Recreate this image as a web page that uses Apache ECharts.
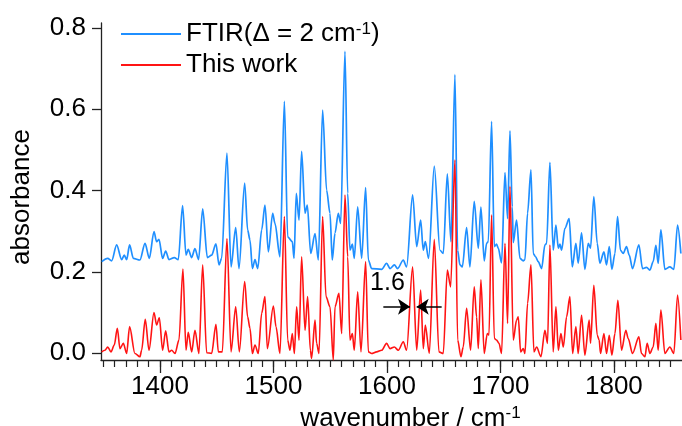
<!DOCTYPE html>
<html>
<head>
<meta charset="utf-8">
<script src="https://cdn.jsdelivr.net/npm/echarts@6/dist/echarts.min.js"></script>
<style>
html,body{margin:0;padding:0;background:#fff;}
#chart{width:682px;height:426px;}
</style>
</head>
<body>
<div id="chart"></div>
<script>
// ---- data ----
const ftirWavenumber = [1348.6,1353.9,1357.4,1361.8,1366.2,1368.5,1370.6,1373.2,1376.5,1382.3,1386.8,1390.6,1394.7,1397.0,1399.1,1402.3,1405.0,1407.9,1412.6,1416.1,1419.9,1422.9,1424.9,1427.9,1430.8,1434.0,1437.6,1441.7,1445.5,1449.3,
1452.0,1454.3,1459.0,1462.6,1466.7,1469.6,1474.6,1477.2,1479.3,1481.4,1483.7,1486.1,1489.6,1492.5,1495.5,1499.3,1501.3,1505.7,1509.6,1512.5,1516.6,1518.1,1520.1,1522.5,1524.8,1527.8,1529.8,1532.8,1536.6,1539.5,1543.3,1546.8,1549.8,1551.8,
1554.2,1557.1,1559.2,1563.0,1565.4,1567.4,1569.5,1571.2,1574.2,1577.7,1581.2,1583.6,1586.5,1595.3,1599.7,1602.7,1606.5,1609.4,1614.4,1617.3,1622.6,1626.2,1629.7,1632.0,1633.8,1636.7,1641.7,1646.7,1649.6,1653.2,1656.4,1659.9,
1662.3,1664.3,1666.4,1670.2,1673.1,1676.9,1680.5,1682.8,1685.7,1687.8,1689.3,1692.2,1694.6,1696.6,1698.1,1701.0,1704.0,1706.3,1708.4,1710.4,1711.3,1714.2,1717.2,1720.1,1721.6,1723.9,1726.9,1728.9,1731.0,1733.3,1736.3,1739.2,1740.7,1743.6,1746.5,1748.9,1751.0,1752.4,1753.9,1756.8,1760.6,1763.3,
1766.5,1768.5,1771.5,1774.4,1777.4,1779.4,1782.3,1785.3,1787.6,1791.2,1793.5,1795.9,1798.2,1800.9,1803.2,1805.8,1808.2,1811.1,1813.5,1816.4,1822.0,1825.2,1828.8,1831.7,1834.6,1837.0,1839.0,1841.4,1844.9,1849.3,1852.8,1856.1,1859.0];
const ftirAbsorbance = [0.225,0.233,0.227,0.266,0.230,0.241,0.230,0.266,0.233,0.229,0.270,0.233,0.299,0.274,0.280,0.233,0.251,0.230,0.235,0.230,0.363,0.241,0.255,0.235,0.257,0.230,0.355,0.235,0.241,0.269,
0.217,0.233,0.492,0.212,0.309,0.208,0.418,0.303,0.278,0.208,0.230,0.208,0.303,0.364,0.249,0.344,0.319,0.237,0.619,0.286,0.274,0.233,0.393,0.327,0.496,0.344,0.364,0.245,0.294,0.229,0.598,0.401,0.344,0.229,
0.295,0.344,0.319,0.742,0.393,0.253,0.268,0.233,0.360,0.233,0.407,0.229,0.208,0.206,0.221,0.208,0.217,0.208,0.229,0.212,0.389,0.262,0.327,0.253,0.274,0.233,0.460,0.253,0.245,0.441,0.274,0.685,
0.253,0.217,0.212,0.309,0.212,0.373,0.258,0.359,0.227,0.270,0.274,0.570,0.262,0.268,0.258,0.222,0.444,0.331,0.547,0.360,0.272,0.327,0.233,0.227,0.230,0.344,0.451,0.245,0.237,0.225,0.208,0.266,0.270,0.469,0.253,0.315,0.258,0.268,0.253,0.307,0.331,0.212,
0.270,0.221,0.296,0.206,0.270,0.258,0.385,0.270,0.221,0.249,0.217,0.262,0.206,0.245,0.336,0.253,0.245,0.262,0.241,0.208,0.266,0.208,0.211,0.204,0.225,0.265,0.221,0.303,0.206,0.212,0.206,0.315,0.245];

const workWavenumber = [1348.6,1351.5,1353.9,1356.8,1359.7,1362.4,1364.7,1367.7,1370.6,1373.2,1377.9,1382.3,1383.8,1387.0,1390.3,1394.7,1397.0,1399.4,1402.3,1405.0,1407.9,1410.3,1413.2,1416.7,1420.2,1422.9,1424.9,1427.9,1430.8,1434.3,1437.6,1441.1,1445.5,1449.3,
1451.4,1454.9,1459.0,1462.6,1466.7,1469.9,1474.6,1477.2,1479.3,1481.4,1483.7,1486.6,1489.6,1492.5,1494.6,1499.9,1502.2,1505.7,1509.6,1512.5,1514.5,1516.6,1518.4,1520.4,1522.5,1524.8,1527.8,1530.1,1532.5,1533.6,1536.6,1538.0,1540.1,1543.3,1546.3,1549.8,1552.7,
1554.2,1557.7,1560.1,1563.0,1565.4,1567.4,1569.5,1571.2,1574.2,1577.1,1581.2,1583.6,1586.5,1590.9,1595.3,1599.7,1602.7,1606.5,1610.0,1614.4,1617.3,1622.6,1626.2,1629.7,1632.0,1633.8,1637.3,1641.7,1645.8,1649.6,1653.2,1656.1,1659.9,
1662.3,1665.2,1667.2,1670.2,1673.7,1676.9,1679.0,1680.5,1682.8,1685.7,1688.4,1689.9,1692.2,1694.6,1696.6,1698.7,1701.0,1704.0,1706.3,1708.4,1711.3,1714.2,1715.7,1717.8,1720.1,1721.6,1723.9,1726.9,1729.5,1731.9,1735.7,1739.2,1741.5,1743.6,1746.5,1748.9,1751.0,1753.3,1755.4,1758.3,1761.2,
1763.6,1766.5,1768.5,1771.5,1774.4,1778.2,1779.4,1782.3,1785.3,1787.0,1788.2,1791.2,1793.5,1795.9,1798.2,1800.9,1803.5,1806.7,1810.5,1812.6,1816.4,1822.0,1824.3,1827.3,1829.3,1831.7,1834.6,1837.0,1839.0,1841.4,1844.9,1849.3,1852.8,1856.1,1859.0];
const workAbsorbance = [0.003,0.007,0.015,0.003,0.020,0.061,0.011,0.024,-0.001,0.065,-0.001,-0.009,0.007,0.083,0.007,0.100,0.069,0.087,0.007,0.055,0.003,0.007,-0.001,0.032,0.207,0.007,0.051,0.003,0.056,-0.001,0.217,0.001,-0.001,0.071,
0.003,0.003,0.282,0.003,0.114,0.003,0.176,0.089,0.061,-0.001,0.020,-0.001,0.098,0.139,0.011,0.116,0.065,-0.001,0.336,0.032,0.007,0.048,-0.001,0.114,0.032,0.237,0.056,0.139,0.007,-0.013,0.081,0.024,-0.001,0.336,0.139,0.114,-0.017,
0.114,0.147,0.048,0.389,0.237,0.032,0.048,0.007,0.151,0.003,0.225,0.003,-0.001,0.003,0.007,0.024,0.011,0.015,0.007,0.028,0.007,0.212,0.007,0.155,0.011,0.069,-0.001,0.280,0.003,-0.001,0.204,0.163,0.475,
0.032,-0.009,0.015,0.110,0.007,0.163,0.089,0.011,0.180,-0.001,0.048,0.044,0.340,0.036,0.032,0.024,-0.001,0.270,0.073,0.410,0.032,0.081,0.089,0.003,0.011,-0.001,0.122,0.217,0.003,0.015,-0.009,0.056,0.024,0.266,0.003,0.114,0.007,0.048,0.015,0.089,0.139,
-0.001,0.065,-0.001,0.093,-0.005,0.081,0.024,0.167,0.044,0.032,-0.001,0.048,-0.001,0.044,-0.005,0.048,0.130,0.007,0.056,0.036,-0.001,0.040,-0.001,-0.009,0.024,-0.001,0.015,0.073,0.007,0.106,-0.001,0.015,-0.001,0.143,0.032];

const xMajorTicks = [1400,1500,1600,1700,1800];
const xMinorTicks = [1350,1360,1370,1380,1390,1400,1410,1420,1430,1440,1450,1460,1470,1480,1490,1500,1510,1520,1530,1540,1550,1560,1570,1580,1590,1600,1610,1620,1630,1640,1650,1660,1670,1680,1690,1700,1710,1720,1730,1740,1750,1760,1770,1780,1790,1800,1810,1820,1830,1840,1850];
const yTicks = [0.0,0.2,0.4,0.6,0.8];

// annotation (resolution arrows) in data units
const arrowLeft = {from:[1596.8,0.114], to:[1620.3,0.114]};
const arrowRight = {from:[1648.2,0.114], to:[1626.2,0.114]};
const annotationText = {label:'1.6', at:[1600.4,0.172]};

// ---- chart ----
const FONT = "'Liberation Sans', Arial, Helvetica, sans-serif";
const zip = (xs, ys) => xs.map((x, i) => [x, ys[i]]);
const chart = echarts.init(document.getElementById('chart'), null, {renderer:'canvas'});
const axisColor = '#222';

chart.setOption({
  animation: false,
  backgroundColor: '#fff',
  textStyle: {fontFamily: FONT},
  grid: {left: 101, right: 0, top: 23, bottom: 66, containLabel: false, outerBoundsMode: 'none'},
  legend: {
    left: 116, top: 16, orient: 'vertical', itemWidth: 60, itemHeight: 2, itemGap: 4,
    data: [{name:'FTIR', icon:'rect'}, {name:'This work', icon:'rect'}],
    formatter: n => n === 'FTIR' ? '{a|FTIR(Δ = 2 cm}{s|-1}{a|)}' : '{a|This work}',
    textStyle: {
      fontFamily: FONT, color: '#000', fontSize: 26,
      rich: {
        a: {fontFamily: FONT, fontSize: 26, color: '#000', lineHeight: 26},
        s: {fontFamily: FONT, fontSize: 17, color: '#000', verticalAlign: 'top', lineHeight: 26, padding: [0,0,10,0]}
      }
    }
  },
  xAxis: [{
    type: 'value', min: 1348, max: 1860,
    splitLine: {show: false},
    axisLine: {show: true, onZero: false, lineStyle: {color: axisColor, width: 1.3}},
    axisTick: {show: true, inside: false, length: 13, customValues: xMajorTicks, lineStyle: {color: axisColor, width: 1.3}},
    axisLabel: {customValues: xMajorTicks, fontSize: 26, color: '#000', margin: 14, fontFamily: FONT,
                formatter: v => String(v)},
    name: '{a|wavenumber / cm}{s|-1}',
    nameLocation: 'middle', nameGap: 40,
    nameTextStyle: {
      padding: [0,0,0,38],
      rich: {
        a: {fontFamily: FONT, fontSize: 26, color: '#000', lineHeight: 28},
        s: {fontFamily: FONT, fontSize: 17, color: '#000', verticalAlign: 'top', lineHeight: 28, padding: [0,0,12,0]}
      }
    }
  }, {
    type: 'value', min: 1348, max: 1860, position: 'bottom', gridIndex: 0,
    splitLine: {show: false},
    axisLine: {show: false, onZero: false},
    axisTick: {show: true, inside: false, length: 7, customValues: xMinorTicks, lineStyle: {color: axisColor, width: 1.2}},
    axisLabel: {show: false}
  }],
  yAxis: {
    type: 'value', min: -0.017, max: 0.812,
    splitLine: {show: false},
    axisLine: {show: true, onZero: false, lineStyle: {color: axisColor, width: 1.3}},
    axisTick: {show: true, inside: false, length: 9, customValues: yTicks, lineStyle: {color: axisColor, width: 1.3}},
    axisLabel: {customValues: yTicks, fontSize: 26, color: '#000', margin: 15, fontFamily: FONT,
                formatter: v => Number(v).toFixed(1)},
    name: 'absorbance', nameLocation: 'middle', nameGap: 66,
    nameTextStyle: {fontFamily: FONT, fontSize: 26, color: '#000', padding: [0,11,0,0]}
  },
  series: [{
    name: 'FTIR', type: 'line', xAxisIndex: 0, data: zip(ftirWavenumber, ftirAbsorbance),
    showSymbol: false, symbol: 'none', smooth: 0.3, smoothMonotone: 'x', z: 2,
    lineStyle: {color: '#1f8fff', width: 1.7}, itemStyle: {color: '#1f8fff'}
  }, {
    name: 'This work', type: 'line', xAxisIndex: 0, data: zip(workWavenumber, workAbsorbance),
    showSymbol: false, symbol: 'none', smooth: 0.3, smoothMonotone: 'x', z: 3,
    lineStyle: {color: '#ff1414', width: 1.6}, itemStyle: {color: '#ff1414'},
    markLine: {
      silent: true, animation: false,
      symbol: ['none', 'arrow'], symbolSize: 12,
      lineStyle: {color: '#000', width: 1.5, type: 'solid'},
      itemStyle: {color: '#000'},
      label: {show: false},
      emphasis: {disabled: true},
      data: [
        [{coord: arrowLeft.from}, {coord: arrowLeft.to}],
        [{coord: arrowRight.from}, {coord: arrowRight.to}]
      ]
    },
    markPoint: {
      silent: true, animation: false,
      data: [{coord: annotationText.at, symbol: 'circle', symbolSize: 1,
               itemStyle: {color: 'rgba(0,0,0,0)'},
               label: {show: true, position: 'inside', formatter: annotationText.label,
                       fontSize: 25, color: '#000', fontFamily: FONT}}]
    }
  }]
});
</script>
</body>
</html>
